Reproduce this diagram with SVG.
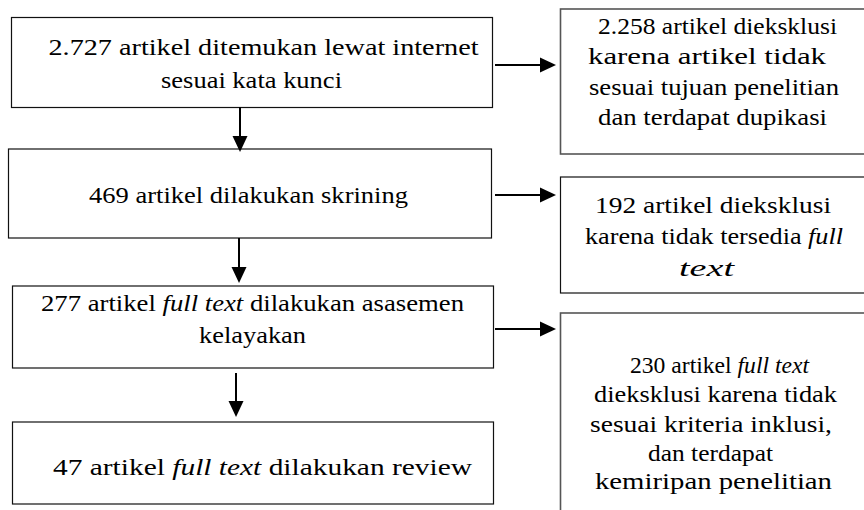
<svg xmlns="http://www.w3.org/2000/svg" width="864" height="510" viewBox="0 0 864 510">
<rect width="864" height="510" fill="#fff"/>
<g id="n1">
<rect fill="#fff" stroke="#111" stroke-width="1.2" x="11.5" y="17.5" width="481" height="90"/>
<text font-family="Liberation Serif" font-size="24" x="48.5" y="55" textLength="430" lengthAdjust="spacingAndGlyphs">2.727 artikel ditemukan lewat internet</text>
<text font-family="Liberation Serif" font-size="24" x="161" y="88" textLength="181" lengthAdjust="spacingAndGlyphs">sesuai kata kunci</text>
</g>
<g id="n2">
<rect fill="#fff" stroke="#111" stroke-width="1.2" x="8.5" y="149" width="483" height="89"/>
<text font-family="Liberation Serif" font-size="24" x="89" y="203" textLength="319" lengthAdjust="spacingAndGlyphs">469 artikel dilakukan skrining</text>
</g>
<g id="n3">
<rect fill="#fff" stroke="#111" stroke-width="1.2" x="12.5" y="286" width="481" height="82"/>
<text font-family="Liberation Serif" font-size="24" x="41" y="311" textLength="423" lengthAdjust="spacingAndGlyphs">277 artikel <tspan font-style="italic">full text</tspan> dilakukan asasemen</text>
<text font-family="Liberation Serif" font-size="24" x="199" y="343" textLength="107" lengthAdjust="spacingAndGlyphs">kelayakan</text>
</g>
<g id="n4">
<rect fill="#fff" stroke="#111" stroke-width="1.2" x="12.5" y="422" width="481" height="82"/>
<text font-family="Liberation Serif" font-size="24" x="53" y="475" textLength="419" lengthAdjust="spacingAndGlyphs">47 artikel <tspan font-style="italic">full text</tspan> dilakukan review</text>
</g>
<g id="r1">
<rect fill="#fff" stroke="#555" stroke-width="1.6" x="560.5" y="9" width="320" height="145"/>
<text font-family="Liberation Serif" font-size="24" x="598" y="34" textLength="239" lengthAdjust="spacingAndGlyphs">2.258 artikel dieksklusi</text>
<text font-family="Liberation Serif" font-size="24" x="588" y="64" textLength="238" lengthAdjust="spacingAndGlyphs">karena artikel tidak</text>
<text font-family="Liberation Serif" font-size="24" x="589" y="95" textLength="250" lengthAdjust="spacingAndGlyphs">sesuai tujuan penelitian</text>
<text font-family="Liberation Serif" font-size="24" x="598" y="125" textLength="229" lengthAdjust="spacingAndGlyphs">dan terdapat dupikasi</text>
</g>
<g id="r2">
<rect fill="#fff" stroke="#111" stroke-width="1.2" x="560.5" y="177" width="320" height="116"/>
<text font-family="Liberation Serif" font-size="24" x="595" y="213" textLength="236" lengthAdjust="spacingAndGlyphs">192 artikel dieksklusi</text>
<text font-family="Liberation Serif" font-size="24" x="585" y="244" textLength="258" lengthAdjust="spacingAndGlyphs">karena tidak tersedia <tspan font-style="italic">full</tspan></text>
<text font-family="Liberation Serif" font-size="24" x="679" y="276" font-style="italic" textLength="55" lengthAdjust="spacingAndGlyphs">text</text>
</g>
<g id="r3">
<rect fill="#fff" stroke="#555" stroke-width="1.6" x="560.5" y="313" width="320" height="220"/>
<text font-family="Liberation Serif" font-size="24" x="630" y="373" textLength="179" lengthAdjust="spacingAndGlyphs">230 artikel <tspan font-style="italic">full text</tspan></text>
<text font-family="Liberation Serif" font-size="24" x="594" y="402" textLength="243" lengthAdjust="spacingAndGlyphs">dieksklusi karena tidak</text>
<text font-family="Liberation Serif" font-size="24" x="590" y="432" textLength="242" lengthAdjust="spacingAndGlyphs">sesuai kriteria inklusi,</text>
<text font-family="Liberation Serif" font-size="24" x="648" y="461" textLength="125" lengthAdjust="spacingAndGlyphs">dan terdapat</text>
<text font-family="Liberation Serif" font-size="24" x="595" y="489" textLength="237" lengthAdjust="spacingAndGlyphs">kemiripan penelitian</text>
</g>
<g id="connectors">
<g stroke="#000" stroke-width="2">
<line x1="495" y1="65" x2="541" y2="65"/>
<line x1="495" y1="195" x2="541" y2="195"/>
<line x1="495" y1="329" x2="541" y2="329"/>
<line x1="240" y1="107" x2="240" y2="137"/>
<line x1="239" y1="238" x2="239" y2="268"/>
<line x1="236" y1="373" x2="236" y2="402"/>
</g>
<g fill="#000">
<polygon points="540,57.5 556,65 540,72.5"/>
<polygon points="540,187.5 556,195 540,202.5"/>
<polygon points="540,321.5 556,329 540,336.5"/>
<polygon points="232.5,136 247.5,136 240,152"/>
<polygon points="231.5,267 246.5,267 239,283"/>
<polygon points="228.5,401 243.5,401 236,417"/>
</g>
</g>
</svg>
